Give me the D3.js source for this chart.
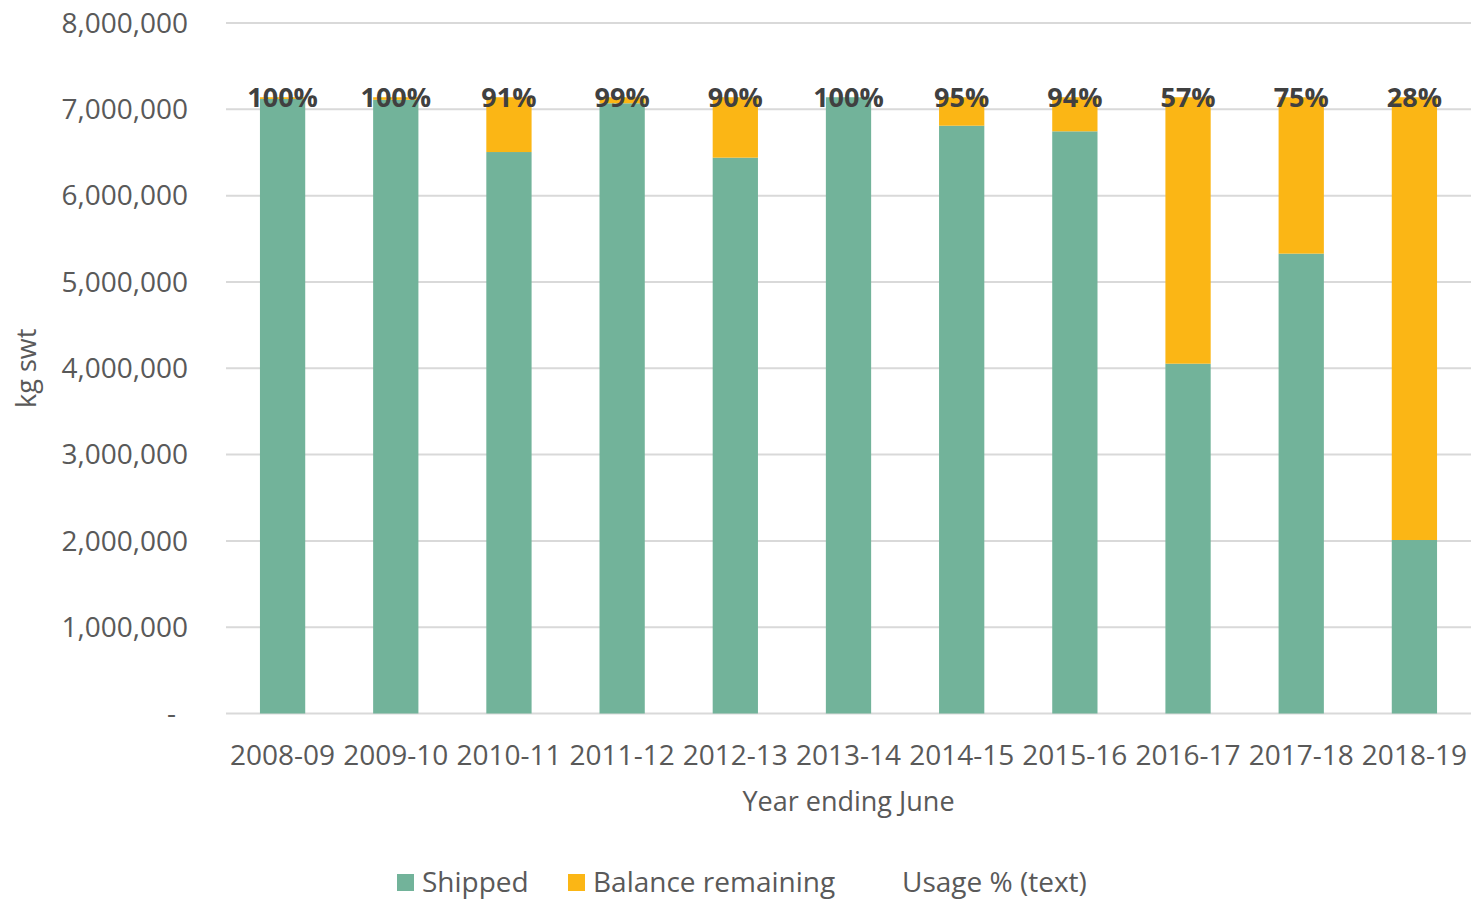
<!DOCTYPE html>
<html>
<head>
<meta charset="utf-8">
<script src="https://cdn.jsdelivr.net/npm/d3@7"></script>
<style>
  body { margin: 0; background: #fff; }
  svg { display: block; font-family: "Open Sans", sans-serif; }
</style>
</head>
<body>
<div id="chart"></div>
<script>
// chart values
const years = ["2008-09", "2009-10", "2010-11", "2011-12", "2012-13", "2013-14",
               "2014-15", "2015-16", "2016-17", "2017-18", "2018-19"];
const shipped = [7120000, 7110000, 6505000, 7070000, 6440000, 7140000,
                 6810000, 6745000, 4053000, 5328000, 2010000];
const balance = [20000, 30000, 635000, 70000, 700000, 0,
                 330000, 395000, 3087000, 1812000, 5130000];
const usageText = ["100%", "100%", "91%", "99%", "90%", "100%",
                   "95%", "94%", "57%", "75%", "28%"];
const yTicks = [0, 1000000, 2000000, 3000000, 4000000, 5000000, 6000000, 7000000, 8000000];
const seriesNames = ["Shipped", "Balance remaining"];
const seriesColors = ["#72b39a", "#fbb615"];

const width = 1471, height = 902;
const plotLeft = 226, plotRight = 1471, plotTop = 23, plotBottom = 713.5;

const svg = d3.select("#chart").append("svg")
    .attr("width", width)
    .attr("height", height);

const x = d3.scaleBand()
    .domain(years)
    .range([plotLeft, plotRight])
    .paddingInner(0.6)
    .paddingOuter(0.3);

const y = d3.scaleLinear()
    .domain([0, 8000000])
    .range([plotBottom, plotTop]);

// gridlines
svg.append("g")
    .selectAll("line")
    .data(yTicks)
    .join("line")
    .attr("x1", plotLeft)
    .attr("x2", plotRight)
    .attr("y1", d => y(d))
    .attr("y2", d => y(d))
    .attr("stroke", "#d9d9d9")
    .attr("stroke-width", 2);

// y axis labels
const fmt = d3.format(",");
svg.append("g")
    .selectAll("text")
    .data(yTicks)
    .join("text")
    .attr("x", d => d === 0 ? 176 : 188)
    .attr("y", d => y(d))
    .attr("dy", "0.35em")
    .attr("text-anchor", "end")
    .attr("fill", "#595959")
    .attr("font-size", 28)
    .text(d => d === 0 ? "-" : fmt(d));

// stacked bars
const rows = years.map((yr, i) => ({ year: yr, Shipped: shipped[i], "Balance remaining": balance[i] }));
const stack = d3.stack().keys(seriesNames)(rows);

svg.append("g")
    .selectAll("g")
    .data(stack)
    .join("g")
    .attr("fill", (d, i) => seriesColors[i])
    .selectAll("rect")
    .data(d => d)
    .join("rect")
    .attr("x", d => x(d.data.year))
    .attr("width", x.bandwidth())
    .attr("y", d => y(d[1]))
    .attr("height", d => y(d[0]) - y(d[1]));

// usage % labels at the top of each bar
svg.append("g")
    .selectAll("text")
    .data(years)
    .join("text")
    .attr("x", d => x(d) + x.bandwidth() / 2)
    .attr("y", (d, i) => y(shipped[i] + balance[i]))
    .attr("dy", "0.35em")
    .attr("text-anchor", "middle")
    .attr("fill", "#404040")
    .attr("font-weight", "bold")
    .attr("font-size", 27)
    .text((d, i) => usageText[i]);

// x axis labels
svg.append("g")
    .selectAll("text")
    .data(years)
    .join("text")
    .attr("x", d => x(d) + x.bandwidth() / 2)
    .attr("y", 755)
    .attr("dy", "0.35em")
    .attr("text-anchor", "middle")
    .attr("fill", "#595959")
    .attr("font-size", 28)
    .text(d => d);

// axis titles
svg.append("text")
    .attr("x", (plotLeft + plotRight) / 2)
    .attr("y", 802)
    .attr("dy", "0.35em")
    .attr("text-anchor", "middle")
    .attr("fill", "#595959")
    .attr("font-size", 27)
    .text("Year ending June");

svg.append("text")
    .attr("transform", "translate(27," + ((plotTop + plotBottom) / 2) + ") rotate(-90)")
    .attr("dy", "0.35em")
    .attr("text-anchor", "middle")
    .attr("fill", "#595959")
    .attr("font-size", 27)
    .text("kg swt");

// legend
const legendItems = [
    { name: "Shipped", color: seriesColors[0], x: 397 },
    { name: "Balance remaining", color: seriesColors[1], x: 568 },
    { name: "Usage % (text)", color: null, x: 877 }
];
const legend = svg.append("g")
    .selectAll("g")
    .data(legendItems)
    .join("g")
    .attr("transform", d => "translate(" + d.x + ",882)");

legend.filter(d => d.color)
    .append("rect")
    .attr("x", 0)
    .attr("y", -8)
    .attr("width", 17)
    .attr("height", 17)
    .attr("fill", d => d.color);

legend.append("text")
    .attr("x", 25)
    .attr("dy", "0.35em")
    .attr("fill", "#595959")
    .attr("font-size", 28)
    .text(d => d.name);
</script>
</body>
</html>
